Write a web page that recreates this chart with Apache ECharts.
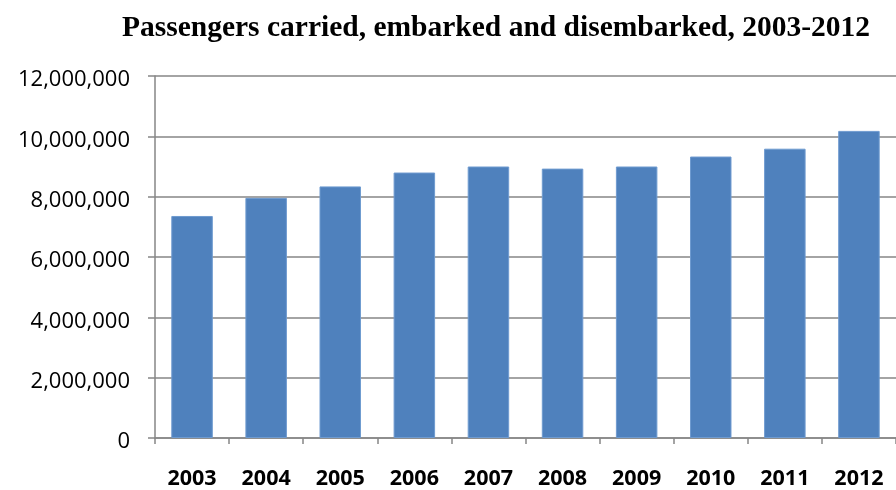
<!DOCTYPE html>
<html><head><meta charset="utf-8">
<script src="https://cdn.jsdelivr.net/npm/echarts@6/dist/echarts.min.js"></script>
<style>html,body{margin:0;padding:0;background:#fff}#c{width:896px;height:490px}</style>
</head><body><div id="c"></div>
<script>
const years = ['2003','2004','2005','2006','2007','2008','2009','2010','2011','2012'];
const passengers = [7360000, 7960000, 8340000, 8800000, 9000000, 8930000, 9000000, 9330000, 9590000, 10180000];
const yTicks = {min: 0, max: 12000000, interval: 2000000};

const chart = echarts.init(document.getElementById('c'));
chart.setOption({
  animation: false,
  title: {
    text: 'Passengers carried, embarked and disembarked, 2003-2012',
    left: 491, top: 8, textAlign: 'center',
    textStyle: {fontFamily: 'Liberation Serif', fontWeight: 'bold', fontSize: 29.5, color: '#000'}
  },
  grid: {left: 155, top: 76, bottom: 49, width: 747, containLabel: false},
  xAxis: {
    type: 'category', data: years,
    axisLine: {lineStyle: {color: '#868686', width: 1.5}},
    axisTick: {show: true, length: 6, lineStyle: {color: '#868686', width: 1.5}},
    axisLabel: {fontFamily: 'Open Sans', fontWeight: 'bold', fontSize: 21.5, color: '#000', margin: 30}
  },
  yAxis: {
    type: 'value', min: yTicks.min, max: yTicks.max, interval: yTicks.interval,
    axisLine: {show: true, lineStyle: {color: '#868686', width: 1.5}},
    axisTick: {show: true, length: 7, lineStyle: {color: '#868686', width: 1.5}},
    splitLine: {lineStyle: {color: '#868686', width: 1.5}},
    axisLabel: {
      fontFamily: 'Open Sans', fontSize: 22, color: '#000', margin: 25,
      verticalAlign: 'top', lineHeight: 8,
      formatter: v => v.toLocaleString('en-US')
    }
  },
  series: [{
    type: 'bar', data: passengers, barCategoryGap: '44%',
    itemStyle: {color: '#4f81bd', borderColor: '#6f9bd0', borderWidth: 1}
  }]
});
</script></body></html>
